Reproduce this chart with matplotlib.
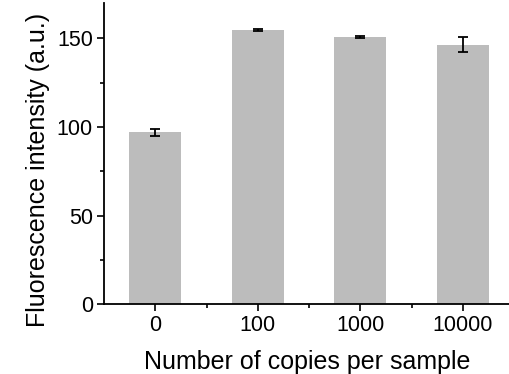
import matplotlib
matplotlib.use("Agg")
import matplotlib.pyplot as plt
from matplotlib.ticker import MultipleLocator, FixedLocator

categories = ["0", "100", "1000", "10000"]
values = [97.0, 154.8, 150.7, 146.5]
errors = [2.0, 0.5, 0.7, 4.2]

plt.rcParams['font.family'] = ['Liberation Sans', 'DejaVu Sans']

fig = plt.figure(figsize=(5.10, 3.74), dpi=100)
ax = fig.add_axes([0.204, 0.187, 0.796, 0.805])

x = list(range(len(categories)))
ax.bar(x, values, width=0.51, color='#bcbcbc', edgecolor='none', zorder=1)
ax.errorbar(x, values, yerr=errors, fmt='none', ecolor='black',
            elinewidth=1.3, capsize=3.8, capthick=1.3, zorder=3)

ax.set_xlim(-0.5, 3.46)
ax.set_ylim(0, 170)
ax.set_xticks(x)
ax.set_xticklabels(categories)
ax.xaxis.set_minor_locator(FixedLocator([0.5, 1.5, 2.5]))
ax.yaxis.set_major_locator(MultipleLocator(50))
ax.yaxis.set_minor_locator(MultipleLocator(25))

for s in ['top', 'right']:
    ax.spines[s].set_visible(False)
for s in ['left', 'bottom']:
    ax.spines[s].set_linewidth(1.3)

ax.tick_params(axis='both', which='major', direction='out', length=5, width=1.2,
               labelsize=15.5, pad=3)
ax.tick_params(axis='both', which='minor', direction='out', length=3, width=1.2)

ax.set_xlabel("Number of copies per sample", fontsize=18)
ax.set_ylabel("Fluorescence intensity (a.u.)", fontsize=18)
ax.xaxis.set_label_coords(0.5, -0.152)
ax.yaxis.set_label_coords(-0.133, 0.445)

fig.savefig("out.png", dpi=100)
